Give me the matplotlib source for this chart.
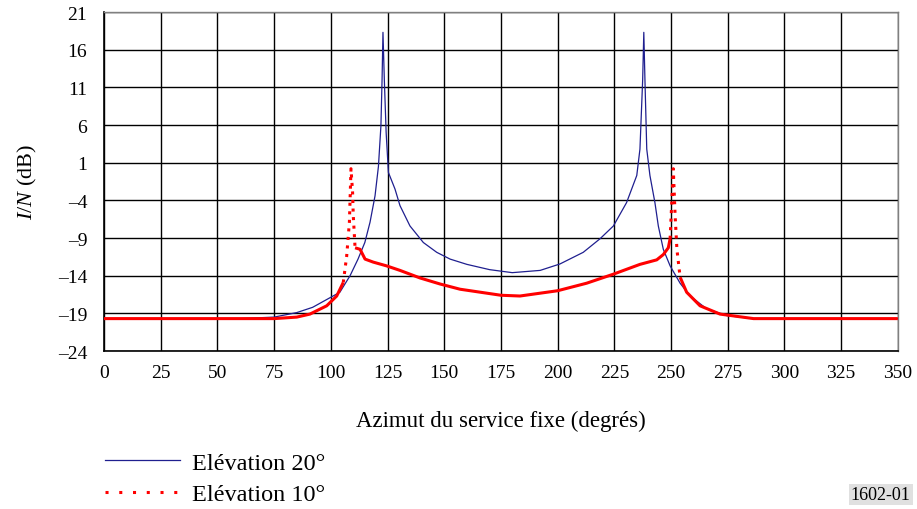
import numpy as np
import matplotlib
matplotlib.use("Agg")
import matplotlib.pyplot as plt
from matplotlib.lines import Line2D

plt.rcParams['font.family'] = ['Liberation Serif', 'DejaVu Serif']
plt.rcParams['mathtext.fontset'] = 'custom'
plt.rcParams['mathtext.rm'] = 'Liberation Serif'
plt.rcParams['mathtext.it'] = 'Liberation Serif:italic'

# Elevation 20 deg (azimuth, I/N dB)
az20 = [0, 60, 75, 85, 92, 98, 104, 108.5, 112, 115, 117.3, 119.5, 121, 122.1, 122.6, 123.0,
        123.6, 124.4, 125.4, 128.3, 130.5, 134.9, 140.8, 146.7, 152.6, 160, 170, 180, 192.3,
        201, 211.3, 218.7, 224.6, 230.4, 234.9, 236.3, 237.5, 238.0, 238.5, 239.3, 240.7,
        242.9, 244.4, 246.6, 249.6, 254, 258.4, 265.7, 274.6, 286.4, 300, 350]
in20 = [-19.7, -19.7, -19.5, -18.9, -18.2, -17.2, -16.2, -14.0, -11.8, -9.6, -6.9, -3.4, 0.5,
        5.9, 12.0, 18.3, 12.0, 5.0, -0.3, -2.5, -4.7, -7.4, -9.6, -10.9, -11.8, -12.5, -13.2,
        -13.6, -13.3, -12.45, -10.9, -9.1, -7.4, -4.3, -0.7, 2.8, 12.0, 18.3, 12.0, 2.8, -0.7,
        -4.3, -7.4, -10.5, -12.7, -15.0, -16.7, -18.4, -19.3, -19.7, -19.7, -19.7]

# Elevation 10 deg
az10 = [0, 75, 85, 90.8, 98.2, 102.6, 105.5, 107.0, 108.2, 108.9, 109.6, 109.9, 110.7, 112.9,
        115.1, 118.7, 124.6, 130.5, 139.3, 148.1, 157.0, 175, 183.4, 200, 212.8, 224.6, 236.3,
        243.7, 246.6, 248.8, 249.6, 251.0, 251.8, 252.6, 254.0, 256.9, 262.8, 271.6, 286.4, 350]
in10 = [-19.7, -19.7, -19.5, -19.1, -18.0, -16.7, -14.9, -11.4, -6.9, 0.2, -2.9, -6.0, -10.3,
        -10.5, -11.8, -12.2, -12.7, -13.3, -14.3, -15.1, -15.8, -16.6, -16.7, -16.0, -15.0,
        -13.8, -12.5, -11.9, -11.2, -10.3, -9.1, 0.2, -6.0, -10.5, -14.2, -16.2, -18.0, -19.1,
        -19.7, -19.7]

xticks = list(range(0, 351, 25))
yticks = [-24, -19, -14, -9, -4, 1, 6, 11, 16, 21]
ytick_labels = ['–24', '–19', '–14', '–9', '–4', '1', '6', '11', '16', '21']

blue = '#1f1f8f'
red = '#ff0000'

fig = plt.figure(figsize=(9.17, 5.10), dpi=100)
ax = fig.add_axes([0.1134, 0.3098, 0.8657, 0.6647])

ax.plot(az20, in20, color=blue, lw=0.9, zorder=3)

# steep parts of the 10 deg curve are dotted, the rest looks solid
x10 = np.array(az10)
y10 = np.array(in10)
steep = np.abs(np.diff(y10) / np.diff(x10)) > 2
start = 0
for i in range(1, len(steep) + 1):
    if i == len(steep) or steep[i] != steep[start]:
        seg = slice(start, i + 1)
        ls = (0, (1, 1.8)) if steep[start] else '-'
        ax.plot(x10[seg], y10[seg], color=red, lw=2.2, ls=ls, zorder=4,
                solid_capstyle='butt', dash_capstyle='butt')
        start = i

ax.set_xlim(0, 350)
ax.set_ylim(-24, 21)
ax.set_xticks(xticks)
ax.set_yticks(yticks)
ax.set_yticklabels(ytick_labels)
ax.tick_params(length=0, labelsize=14)
ax.tick_params(axis='y', pad=12)
ax.tick_params(axis='x', pad=9)
ax.grid(True, color='black', lw=1.0)
ax.set_axisbelow(True)
for side in ['left', 'bottom']:
    ax.spines[side].set_linewidth(1.2)
for side in ['top', 'right']:
    ax.spines[side].set_color('#808080')
    ax.spines[side].set_linewidth(1.0)

ax.set_xlabel('Azimut du service fixe (degrés)', fontsize=16.5, labelpad=21)
ax.set_ylabel(r'$\mathit{I/N}$ (dB)', fontsize=16, labelpad=14)

handles = [Line2D([], [], color=blue, lw=0.9),
           Line2D([], [], color=red, lw=2.2, ls=(0, (1, 3.5)), dash_capstyle='butt')]
fig.legend(handles, ['Elévation 20°', 'Elévation 10°'], loc='upper left',
           bbox_to_anchor=(0.1145, 0.112), frameon=False, fontsize=17.5,
           handlelength=3.1, handletextpad=0.5, labelspacing=0.38,
           borderpad=0, borderaxespad=0)

fig.text(0.993, 0.012, '1602-01', fontsize=13, ha='right', va='bottom',
         bbox=dict(facecolor='#e0e0e0', edgecolor='none', pad=1.5))

fig.savefig('out.png', dpi=100)
